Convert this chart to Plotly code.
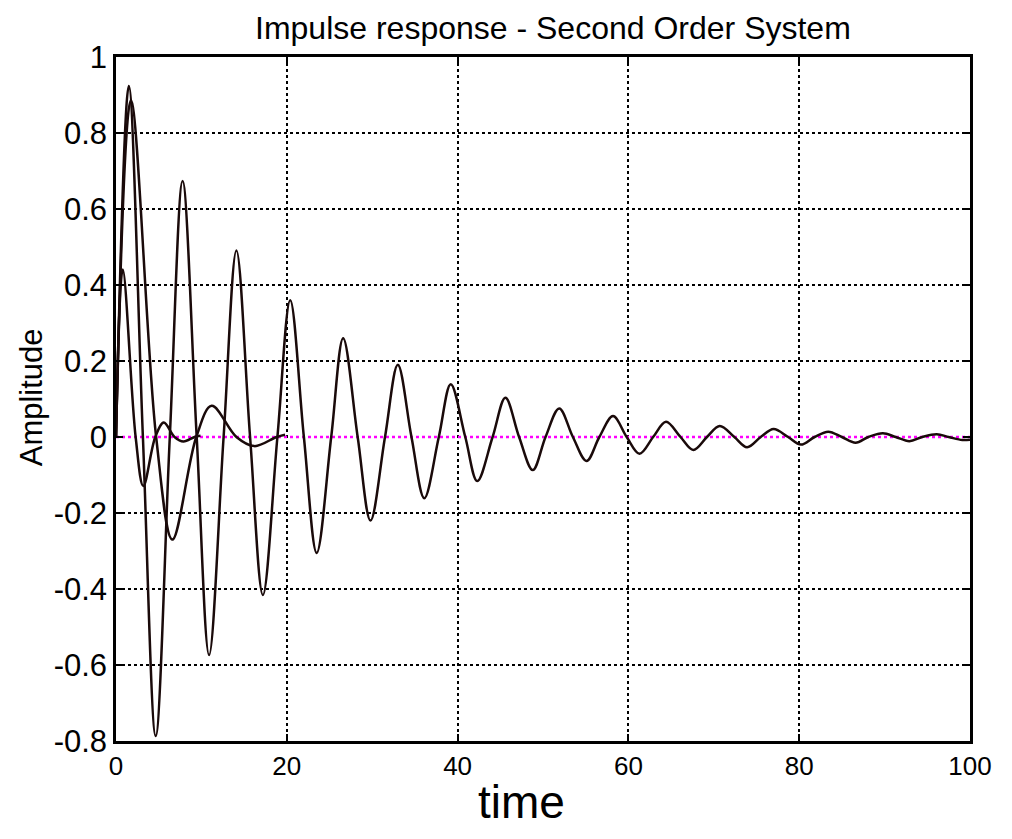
import plotly.graph_objects as go

# ---- data ----
# curve A: lightly damped response (runs to t = 100)
tA = [0, 1.5, 3.15, 4.65, 6.3, 7.8, 9.45, 10.9, 12.6, 14.1, 15.7, 17.2, 18.9, 20.4,
      22.0, 23.5, 25.2, 26.6, 28.3, 29.8, 31.5, 33.0, 34.6, 36.1, 37.8, 39.2, 40.9,
      42.3, 44.1, 45.6, 47.2, 48.8, 50.3, 51.9, 53.5, 55.1, 56.6, 58.2, 59.8, 61.3,
      62.9, 64.4, 66.1, 67.6, 69.2, 70.7, 72.4, 73.9, 75.5, 77.0, 78.7, 80.2, 81.8,
      83.4, 85.0, 86.6, 88.1, 89.8, 91.3, 92.9, 94.4, 96.1, 97.5, 99.1, 100]
yA = [0, 0.924, 0, -0.787, 0, 0.674, 0, -0.574, 0, 0.491, 0, -0.416, 0, 0.36,
      0, -0.305, 0, 0.26, 0, -0.22, 0, 0.19, 0, -0.161, 0, 0.139, 0,
      -0.116, 0, 0.103, 0, -0.087, 0, 0.075, 0, -0.063, 0, 0.055, 0, -0.044,
      0, 0.040, 0, -0.034, 0, 0.029, 0, -0.027, 0, 0.021, 0, -0.020, 0,
      0.014, 0, -0.015, 0, 0.010, 0, -0.011, 0, 0.007, 0, -0.008, -0.007]

# curve B: moderately damped response (runs to t ~ 20)
tB = [0, 1.75, 4.7, 6.6, 9.4, 11.2, 14.1, 16.2, 18.8, 19.8]
yB = [0, 0.886, 0, -0.27, 0, 0.082, 0, -0.024, 0, 0.006]

# curve C: faster, moderately damped response (runs to t ~ 10)
tC = [0, 0.79, 2.3, 3.2, 4.6, 5.6, 6.85, 7.9, 9.2, 9.9]
yC = [0, 0.441, 0, -0.129, 0, 0.038, 0, -0.012, 0, 0.003]

# zero reference line
zero_t = [0, 100]
zero_y = [0, 0]

x_ticks = [0, 20, 40, 60, 80, 100]
y_ticks = [-0.8, -0.6, -0.4, -0.2, 0, 0.2, 0.4, 0.6, 0.8, 1]
y_tick_text = ["-0.8", "-0.6", "-0.4", "-0.2", "0", "0.2", "0.4", "0.6", "0.8", "1"]

FONT = "Liberation Sans, Arial, Helvetica, sans-serif"
CURVE = "#1a0a0a"

fig = go.Figure()
fig.add_trace(go.Scatter(x=zero_t, y=zero_y, mode="lines",
                         line=dict(color="#ff00ff", width=2.5, dash="dot"),
                         hoverinfo="skip"))
for t, y in [(tA, yA), (tB, yB), (tC, yC)]:
    fig.add_trace(go.Scatter(x=t, y=y, mode="lines",
                             line=dict(color=CURVE, width=2.5, shape="spline", smoothing=1.0)))

axis_common = dict(
    showgrid=True, gridcolor="black", griddash="dot", gridwidth=1.5,
    showline=True, linecolor="black", linewidth=2.5, mirror="ticks",
    ticks="inside", ticklen=7, tickwidth=1.5, tickcolor="black",
    zeroline=False, ticklabeloverflow="allow",
)

# the page body keeps its 8px margin on every side, so the figure is sized to fit the
# 1012x839 window without any scrollbars
fig.update_layout(
    width=996, height=823,
    margin=dict(l=108, r=22, t=49, b=90),
    paper_bgcolor="white", plot_bgcolor="white",
    showlegend=False,
    xaxis=dict(range=[0, 100], tickvals=x_ticks,
               tickfont=dict(family=FONT, size=26, color="black"), **axis_common),
    yaxis=dict(range=[-0.8, 1], tickvals=y_ticks, ticktext=y_tick_text,
               tickfont=dict(family=FONT, size=31, color="black"), **axis_common),
    annotations=[
        dict(text="Impulse response - Second Order System", xref="paper", yref="paper",
             x=0.5115, y=1.0424, xanchor="center", yanchor="middle", showarrow=False,
             font=dict(family=FONT, size=32, color="black")),
        dict(text="time", xref="paper", yref="paper",
             x=0.4746, y=-0.1301, xanchor="center", yanchor="bottom", showarrow=False,
             font=dict(family=FONT, size=46, color="black")),
        dict(text="Amplitude", xref="paper", yref="paper", textangle=-90,
             x=-0.098, y=0.503, xanchor="center", yanchor="middle", showarrow=False,
             font=dict(family=FONT, size=31, color="black")),
    ],
)

fig.write_html("out.html", config={"displayModeBar": False})
